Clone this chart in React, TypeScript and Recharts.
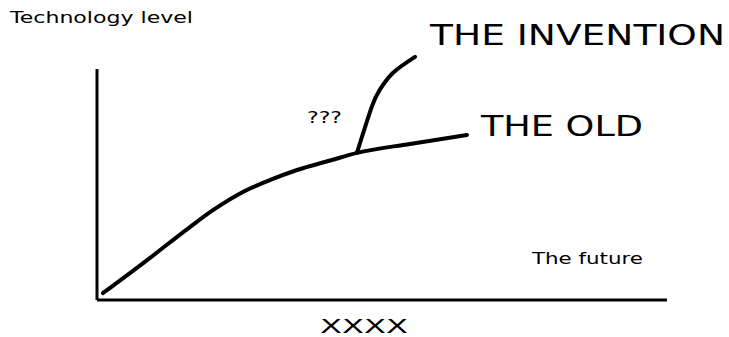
import { LineChart, Line, XAxis, YAxis, ReferenceLine, Customized } from "recharts";

const INK = "#000000";
const FONT = "'DejaVu Sans', Verdana, sans-serif";

// Hand-drawn S-curve of the old technology
const OLD_X = [1.05, 8.8, 16.3, 20.4, 25.6, 30.4, 35.1, 40.9, 45.6, 54.9, 64.9];
const OLD_Y = [3.0, 17.3, 31.6, 39.0, 46.8, 52.0, 56.3, 60.4, 63.7, 67.6, 71.5];

// Branch that jumps up from the old curve
const INV_X = [45.6, 48.2, 49.6, 51.9, 55.8];
const INV_Y = [63.7, 83.6, 91.0, 98.3, 105.3];

const oldData = OLD_X.map((x, i) => ({ x, y: OLD_Y[i] }));
const invData = INV_X.map((x, i) => ({ x, y: INV_Y[i] }));

// text labels: [text, x, baseline, fontSize, width]
const LABELS: [string, number, number, number, number][] = [
  ["Technology level", 10, 23, 16, 183],
  ["THE INVENTION", 430, 44.5, 27.5, 295],
  ["THE OLD", 481, 135.5, 28.5, 162],
  ["???", 307, 123, 15, 35],
  ["The future", 532, 264, 16.5, 111],
  ["XXXX", 320, 333, 19, 88],
];

function Annotations() {
  return (
    <g>
      {LABELS.map(([t, x, y, fs, w]) => (
        <text
          key={t}
          x={x}
          y={y}
          fontSize={fs}
          fontFamily={FONT}
          fill={INK}
          textLength={w}
          lengthAdjust="spacingAndGlyphs"
        >
          {t}
        </text>
      ))}
    </g>
  );
}

export default function App() {
  return (
    <div style={{ position: "absolute", top: 0, left: 0, background: "#fff" }}>
      <LineChart
        width={729}
        height={337}
        margin={{ top: 46, right: 62, left: 97, bottom: 7 }}
      >
        <XAxis
          type="number"
          dataKey="x"
          domain={[0, 100]}
          tick={false}
          tickLine={false}
          axisLine={{ stroke: INK, strokeWidth: 3 }}
          height={30}
        />
        <YAxis type="number" dataKey="y" domain={[0, 110]} hide />
        <ReferenceLine
          segment={[
            { x: 0, y: 0 },
            { x: 0, y: 100 },
          ]}
          stroke={INK}
          strokeWidth={3}
          ifOverflow="visible"
        />
        <Line
          data={oldData}
          dataKey="y"
          type="monotoneX"
          stroke={INK}
          strokeWidth={4}
          strokeLinecap="round"
          dot={false}
          isAnimationActive={false}
        />
        <Line
          data={invData}
          dataKey="y"
          type="natural"
          stroke={INK}
          strokeWidth={4}
          strokeLinecap="round"
          dot={false}
          isAnimationActive={false}
        />
        <Customized component={Annotations} />
      </LineChart>
    </div>
  );
}
